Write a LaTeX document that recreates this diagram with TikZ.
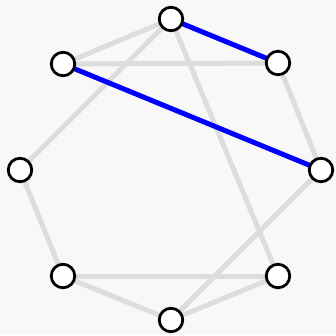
\documentclass[tikz,border=0pt]{standalone}
\definecolor{bgc}{RGB}{248,248,248}
\definecolor{edgegray}{RGB}{221,221,221}
\definecolor{edgeblue}{RGB}{0,0,255}
\begin{document}
\begin{tikzpicture}[x=1pt,y=-1pt,
  vert/.style={circle,draw=black,fill=white,line width=2.8pt,minimum size=23.5pt,inner sep=0pt},
  grayedge/.style={draw=edgegray,line width=5pt},
  blueedge/.style={draw=edgeblue,line width=5pt}]
\fill[bgc] (0,0) rectangle (336,335);
\useasboundingbox (0,0) rectangle (336,335);
\coordinate (A) at (171,19);
\coordinate (B) at (278,63);
\coordinate (C) at (63,64);
\coordinate (D) at (321,170);
\coordinate (E) at (20,170);
\coordinate (F) at (63,276);
\coordinate (G) at (278,276);
\coordinate (H) at (171,320);
\path[grayedge] (A) -- (C);
\path[grayedge] (C) -- (B);
\path[grayedge] (A) -- (E);
\path[grayedge] (A) -- (G);
\path[grayedge] (B) -- (D);
\path[grayedge] (E) -- (F);
\path[grayedge] (F) -- (G);
\path[grayedge] (F) -- (H);
\path[grayedge] (H) -- (D);
\path[grayedge] (H) -- (G);
\path[blueedge] (A) -- (B);
\path[blueedge] (C) -- (D);
\foreach \n in {A,B,C,D,E,F,G,H}
  \node[vert] (v\n) at (\n) {};
\end{tikzpicture}
\end{document}
